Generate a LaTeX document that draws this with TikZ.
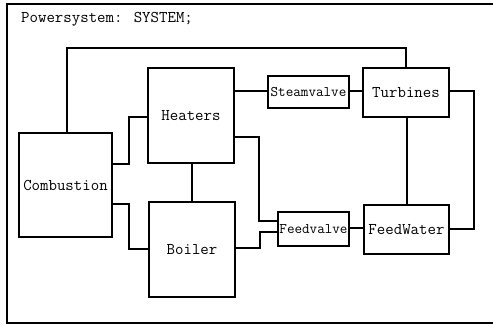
\documentclass[tikz,border=0pt]{standalone}
\begin{document}
\begin{tikzpicture}[x=1pt,y=-1pt,
  bigfont/.style={font=\ttfamily\fontsize{16.4}{18}\selectfont},
  blk/.style={draw, line width=1.6pt, inner sep=0pt, bigfont},
  sblk/.style={draw, line width=1.6pt, inner sep=0pt, font=\ttfamily\fontsize{14.7}{16}\selectfont},
  wire/.style={line width=1.3pt}]
\useasboundingbox (0,0) rectangle (493,325);
\fill[white] (0,0) rectangle (493,325);
\draw[line width=1.6pt] (500,4) -- (7,4) -- (7,323) -- (500,323);
\node[anchor=west, bigfont, inner sep=0pt] (title) at (21,19) {Powersystem: SYSTEM;};
% blocks
\node[blk, minimum width=93pt, minimum height=104pt] (comb) at (65.5,185) {Combustion};
\node[blk, minimum width=86pt, minimum height=95pt] (heat) at (191,115.5) {Heaters};
\node[blk, minimum width=86pt, minimum height=95pt] (boil) at (192,249.5) {Boiler};
\node[sblk, minimum width=81pt, minimum height=32pt] (sv) at (308.5,92) {Steamvalve};
\node[blk, minimum width=86pt, minimum height=49pt] (turb) at (406,92.5) {Turbines};
\node[sblk, minimum width=71pt, minimum height=34pt] (fv) at (313.5,229) {Feedvalve};
\node[blk, minimum width=85pt, minimum height=49pt] (fw) at (406.5,229.5) {FeedWater};
% connectors
\draw[wire] (comb.north -| 67,0) -- (67,48) -- (406,48) -- (turb.north -| 406,0);
\draw[wire] (comb.east |- 0,164) -- (129,164) -- (129,117) -- (heat.west |- 0,117);
\draw[wire] (comb.east |- 0,204) -- (129,204) -- (129,249) -- (boil.west |- 0,249);
\draw[wire] (heat.south -| 192,0) -- (boil.north -| 192,0);
\draw[wire] (heat.east |- 0,91) -- (sv.west |- 0,91);
\draw[wire] (sv.east |- 0,91) -- (turb.west |- 0,91);
\draw[wire] (heat.east |- 0,137) -- (259,137) -- (259,221) -- (fv.west |- 0,221);
\draw[wire] (boil.east |- 0,248) -- (260,248) -- (260,232) -- (fv.west |- 0,232);
\draw[wire] (fv.east |- 0,228) -- (fw.west |- 0,228);
\draw[wire] (turb.south -| 407,0) -- (fw.north -| 407,0);
\draw[wire] (turb.east |- 0,91) -- (474,91) -- (474,229) -- (fw.east |- 0,229);
\end{tikzpicture}
\end{document}
